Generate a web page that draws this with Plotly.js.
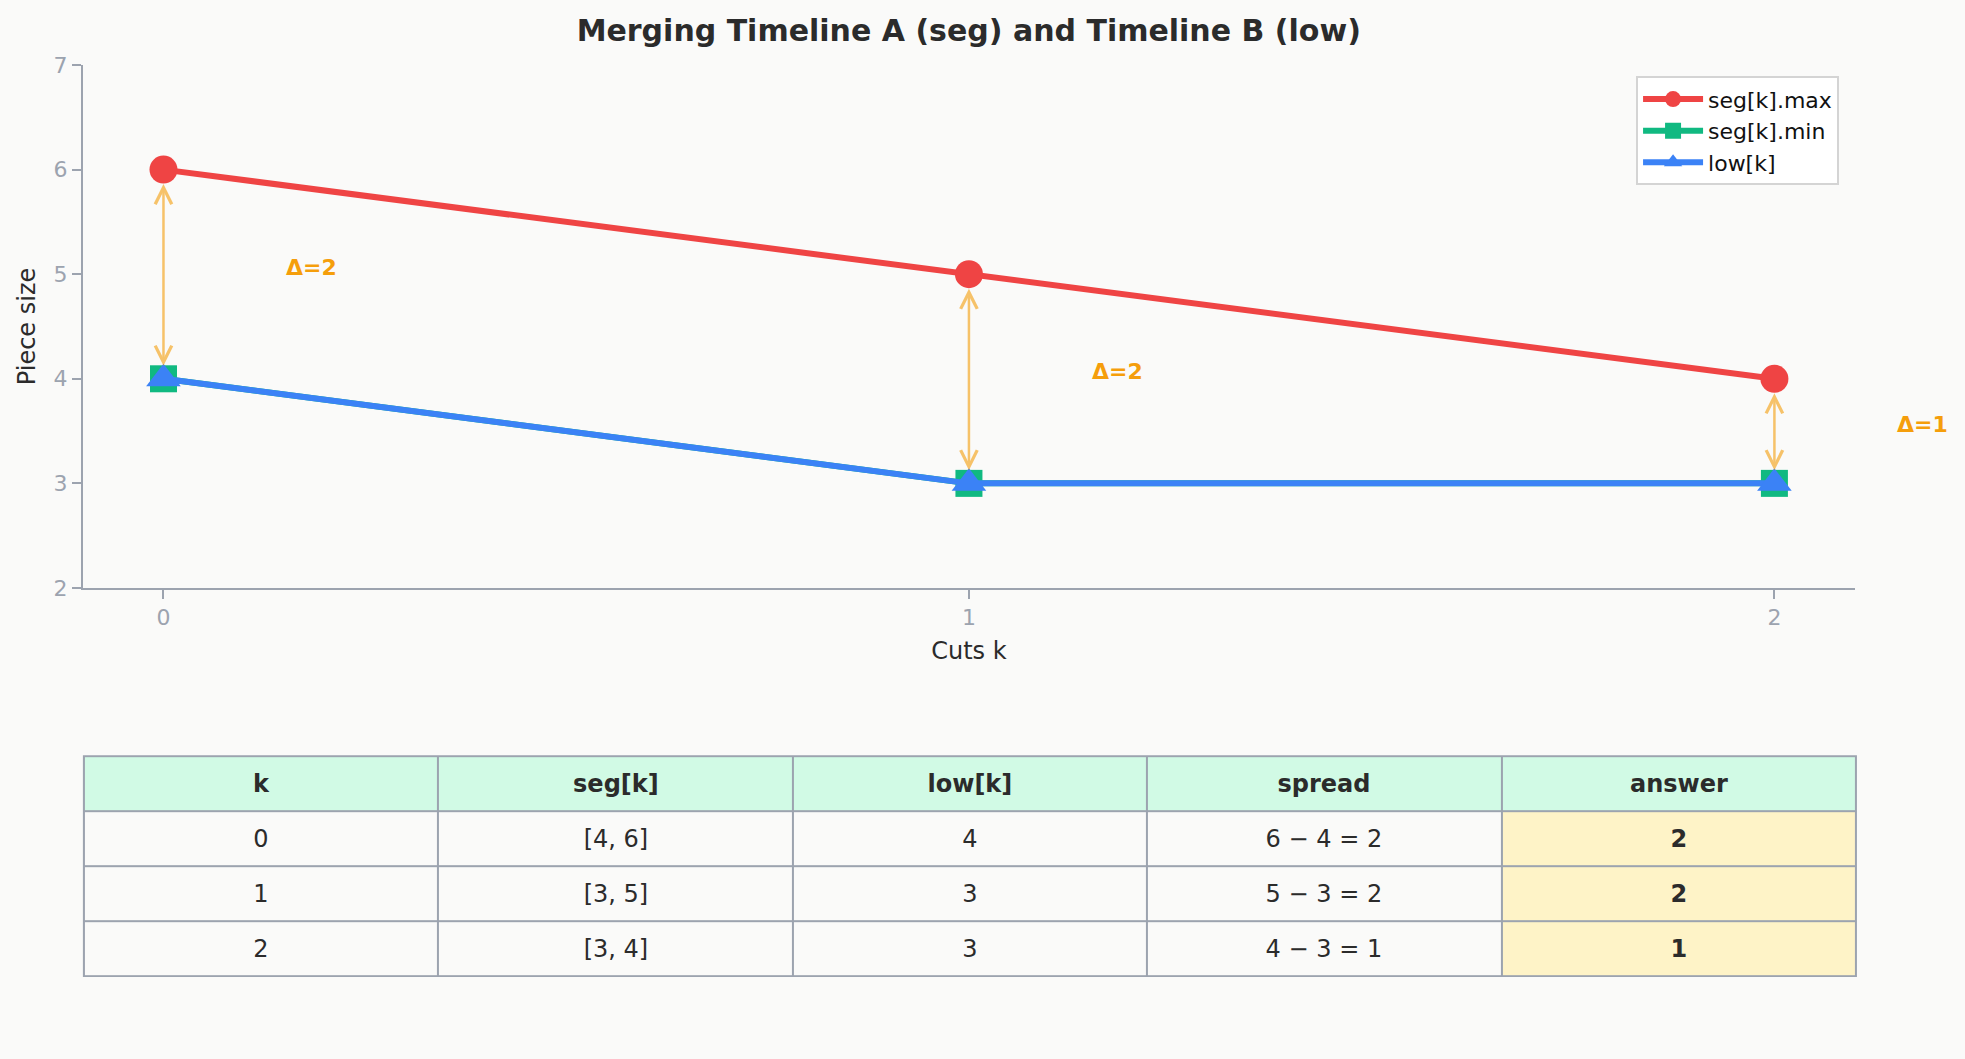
<!DOCTYPE html>
<html>
<head>
<meta charset="utf-8">
<script src="https://cdn.plot.ly/plotly-3.0.1.min.js"></script>
<style>
  html, body { margin: 0; padding: 0; background: #fafaf9; }
  #chart { width: 1965px; height: 1059px; }
</style>
</head>
<body>
<div id="chart"></div>
<script>
// chart values
let cuts = [0, 1, 2];
let seg_max = [6, 5, 4];
let seg_min = [4, 3, 3];
let low = [4, 3, 3];
let answers = [2, 2, 1];
let header_labels = ["k", "seg[k]", "low[k]", "spread", "answer"];

let axis_grey = "#9ca3af";
let text_dark = "#2b2b2b";
let font_family = "DejaVu Sans, sans-serif";

let max_trace = {
    x: cuts,
    y: seg_max,
    mode: "lines+markers",
    name: "seg[k].max",
    line: { color: "#ef4444", width: 6 },
    marker: { symbol: "circle", size: 28, color: "#ef4444" },
    xaxis: "x", yaxis: "y"
};

let min_trace = {
    x: cuts,
    y: seg_min,
    mode: "lines+markers",
    name: "seg[k].min",
    line: { color: "#10b981", width: 6 },
    marker: { symbol: "square", size: 27, color: "#10b981" },
    xaxis: "x", yaxis: "y"
};

let low_trace = {
    x: cuts,
    y: low,
    mode: "lines+markers",
    name: "low[k]",
    line: { color: "#3b82f6", width: 6 },
    marker: { symbol: "triangle-up", size: 30, color: "#3b82f6" },
    xaxis: "x", yaxis: "y"
};

// table rows, built from the arrays above
let table_rows = [header_labels.map(h => "<b>" + h + "</b>")];
cuts.forEach((k, i) => {
    table_rows.push([
        String(k),
        "[" + seg_min[i] + ", " + seg_max[i] + "]",
        String(low[i]),
        seg_max[i] + " \u2212 " + low[i] + " = " + (seg_max[i] - low[i]),
        "<b>" + answers[i] + "</b>"
    ]);
});
// 0 = header, 1 = plain cell, 2 = answer cell
let table_kind = table_rows.map((row, r) => row.map((c, j) => r === 0 ? 0 : (j === 4 ? 2 : 1)));

// the table is drawn as a gapped heatmap so that the cell text sits centred
let table = {
    type: "heatmap",
    z: table_kind,
    text: table_rows,
    texttemplate: "%{text}",
    textfont: { family: font_family, size: 24, color: text_dark },
    zmin: 0, zmax: 2,
    colorscale: [[0, "#d1fae5"], [0.5, "#fafaf9"], [1, "#fef3c7"]],
    showscale: false,
    xgap: 2, ygap: 2,
    hoverinfo: "skip",
    xaxis: "x2", yaxis: "y2"
};

// pixels per unit of k, used only to nudge the delta labels to the right
let px_per_k = 805;

let annotations = [];
cuts.forEach((k, i) => {
    // double-headed gap arrow
    annotations.push({
        x: k, y: seg_min[i], xref: "x", yref: "y",
        ax: k, ay: seg_max[i], axref: "x", ayref: "y",
        showarrow: true,
        arrowside: "end+start",
        arrowhead: 5, startarrowhead: 5,
        arrowsize: 1.3, startarrowsize: 1.3,
        arrowwidth: 2.5,
        arrowcolor: "rgba(245,158,11,0.6)",
        standoff: 13, startstandoff: 13,
        text: ""
    });
    annotations.push({
        x: k, y: (seg_max[i] + low[i]) / 2, xref: "x", yref: "y",
        xshift: 0.15 * px_per_k, yshift: 7,
        xanchor: "left", yanchor: "middle",
        showarrow: false,
        text: "<b>\u0394=" + (seg_max[i] - low[i]) + "</b>",
        font: { family: font_family, size: 22, color: "#f59e0b" }
    });
});

let layout = {
    width: 1965,
    height: 1059,
    paper_bgcolor: "#fafaf9",
    plot_bgcolor: "#fafaf9",
    margin: { l: 0, r: 0, t: 0, b: 0 },
    font: { family: font_family, color: text_dark },
    title: {
        text: "<b>Merging Timeline A (seg) and Timeline B (low)</b>",
        x: 0.493, xanchor: "center",
        y: 0.971, yanchor: "middle",
        font: { family: font_family, size: 30, color: text_dark }
    },
    xaxis: {
        domain: [0.0422, 0.944],
        range: [-0.1, 2.1],
        tickvals: cuts,
        ticks: "outside", ticklen: 9, tickcolor: axis_grey, tickwidth: 1.5,
        tickfont: { size: 22, color: axis_grey },
        showgrid: false, zeroline: false,
        showline: true, linecolor: axis_grey, linewidth: 2,
        automargin: false,
        title: { text: "Cuts k", font: { size: 24, color: text_dark }, standoff: 13 }
    },
    yaxis: {
        domain: [0.4448, 0.9386],
        range: [2, 7],
        dtick: 1,
        ticks: "outside", ticklen: 9, tickcolor: axis_grey, tickwidth: 1.5,
        tickfont: { size: 22, color: axis_grey },
        showgrid: false, zeroline: false,
        showline: true, linecolor: axis_grey, linewidth: 2,
        automargin: false,
        title: { text: "Piece size", font: { size: 24, color: text_dark }, standoff: 11 }
    },
    xaxis2: {
        domain: [0.0427, 0.9445],
        anchor: "y2",
        range: [-0.5, 4.5],
        visible: false,
        fixedrange: true
    },
    yaxis2: {
        domain: [0.0784, 0.286],
        anchor: "x2",
        range: [3.5, -0.5],
        visible: false,
        fixedrange: true
    },
    shapes: [{
        // grey under the table, showing through the gaps as cell borders
        type: "rect", layer: "below",
        xref: "x2 domain", yref: "y2 domain",
        x0: 0, x1: 1, y0: 0, y1: 1,
        fillcolor: axis_grey,
        line: { color: axis_grey, width: 2 }
    }],
    legend: {
        x: 0.8326, xanchor: "left",
        y: 0.928, yanchor: "top",
        bgcolor: "#ffffff",
        bordercolor: "#d4d4d4",
        borderwidth: 2,
        itemwidth: 60,
        font: { family: font_family, size: 22, color: "#111111" },
        tracegroupgap: 0
    },
    annotations: annotations
};

Plotly.newPlot("chart", [max_trace, min_trace, low_trace, table], layout, { displayModeBar: false });
</script>
</body>
</html>
